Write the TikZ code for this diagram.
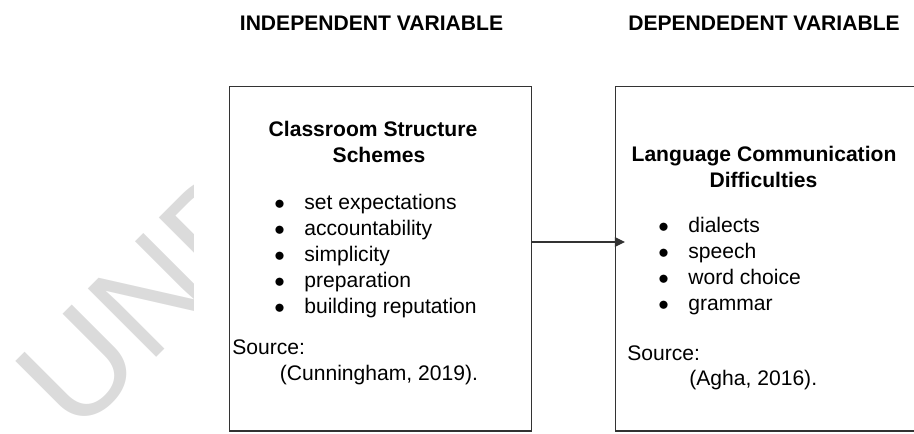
\documentclass[tikz,border=0pt]{standalone}
\usepackage{fontspec}
\setmainfont{Liberation Sans}
\usetikzlibrary{arrows.meta}
\newcommand{\bul}[1]{\makebox[0.6cm][l]{$\bullet$}#1}

\begin{document}
\begin{tikzpicture}[font=\fontsize{12}{14}\selectfont,
    varbox/.style={draw=black!80, line width=0.7pt, inner sep=0pt, minimum width=6.04cm, minimum height=6.89cm},
    title/.style={font=\fontsize{12}{14}\selectfont\bfseries, inner sep=0pt, anchor=base},
    entry/.style={inner sep=0pt, anchor=base west}]
\useasboundingbox (0,0) rectangle (18.28,8.66);
    \begin{scope}
\clip (0,0) rectangle (3.86,8.66);
\node[rotate=45, anchor=base west, inner sep=0pt, text=black!14, font=\fontsize{80}{80}\selectfont] (mark) at (1.52,-0.1) {UND};
    \end{scope}
\node[title] (indtitle) at (7.43,8.04) {INDEPENDENT VARIABLE};
\node[title] (deptitle) at (15.28,8.04) {DEPENDEDENT VARIABLE};
\node[varbox, anchor=south west] (indep) at (4.58,0.03) {};
\node[varbox, anchor=south west] (dep) at (12.30,0.03) {};
\coordinate (tip) at (12.50,3.82);
\draw[black!80, line width=0.7pt, -{Triangle[length=5.7pt, width=5.4pt]}] (indep.east |- tip) -- (tip);
\node[title] (indhead1) at (7.46,5.93) {Classroom Structure};
\node[title] (indhead2) at (7.58,5.41) {Schemes};
\node[entry] (ind1) at (5.48,4.46) {\bul{set expectations}};
\node[entry] (ind2) at (5.48,3.94) {\bul{accountability}};
\node[entry] (ind3) at (5.48,3.43) {\bul{simplicity}};
\node[entry] (ind4) at (5.48,2.91) {\bul{preparation}};
\node[entry] (ind5) at (5.48,2.40) {\bul{building reputation}};
\node[entry] (indsrc) at (4.64,1.58) {Source:};
\node[entry] (indref) at (5.59,1.06) {(Cunningham, 2019).};
\node[title] (dephead1) at (15.28,5.42) {Language Communication};
\node[title] (dephead2) at (15.27,4.91) {Difficulties};
\node[entry] (dep1) at (13.16,4.00) {\bul{dialects}};
\node[entry] (dep2) at (13.16,3.48) {\bul{speech}};
\node[entry] (dep3) at (13.16,2.96) {\bul{word choice}};
\node[entry] (dep4) at (13.16,2.46) {\bul{grammar}};
\node[entry] (depsrc) at (12.54,1.46) {Source:};
\node[entry] (depref) at (13.78,0.96) {(Agha, 2016).};
\end{tikzpicture}
\end{document}
